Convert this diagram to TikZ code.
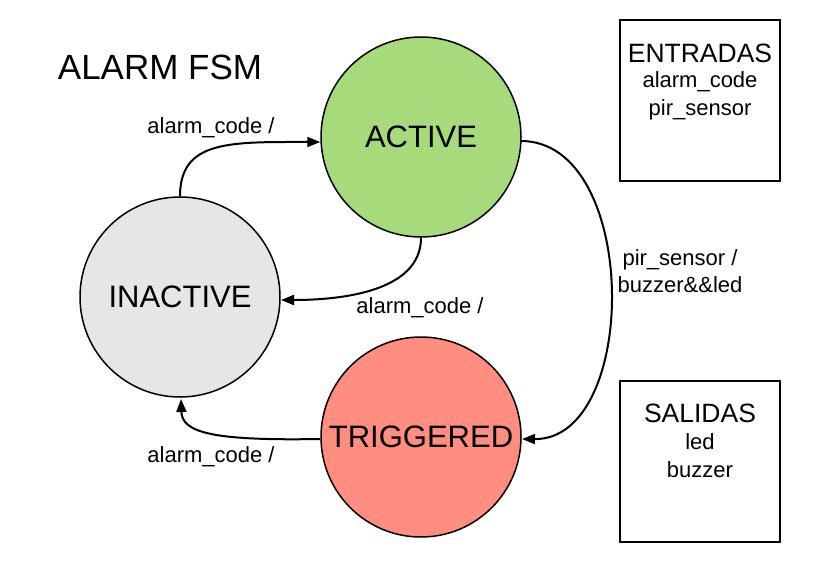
\documentclass[tikz,border=0pt]{standalone}
\usepackage{fontspec}
\setmainfont{Liberation Sans}
\usetikzlibrary{arrows.meta}
\definecolor{actg}{RGB}{166,218,122}
\definecolor{inag}{RGB}{230,230,230}
\definecolor{trgr}{RGB}{255,141,128}
\tikzset{
  state/.style={circle, draw=black, line width=1.5pt, minimum size=200pt, inner sep=0pt, font=\fontsize{31}{31}\selectfont},
  infobox/.style={draw=black, line width=2pt, minimum width=160pt, minimum height=161pt, inner sep=0pt},
  trans/.style={line width=2pt, -{Triangle[length=13pt,width=10pt]}},
  lbl/.style={font=\fontsize{22}{27}\selectfont, inner sep=0pt, align=center},
  boxhead/.style={inner sep=0pt, font=\fontsize{26.5}{30}\selectfont},
  boxitem/.style={inner sep=0pt, font=\fontsize{22}{26}\selectfont}
}
\begin{document}
\begin{tikzpicture}[x=1pt,y=-1pt]
\useasboundingbox (0,0) rectangle (840,572);
\node[font=\fontsize{35}{35}\selectfont, inner sep=0pt] (title) at (160,67) {ALARM FSM};
\node[state, fill=actg] (active) at (421,137) {ACTIVE};
\node[state, fill=inag] (inactive) at (180,297) {INACTIVE};
\node[state, fill=trgr] (trig) at (421,437) {TRIGGERED};
\node[infobox] (inbox) at (700,101) {};
\node[infobox] (outbox) at (700,461) {};
\node[boxhead] (inh) at (700,53) {ENTRADAS};
\node[boxitem] (in1) at (700,82) {alarm\_code};
\node[boxitem] (in2) at (700,110) {pir\_sensor};
\node[boxhead] (outh) at (700,413) {SALIDAS};
\node[boxitem] (out1) at (700,442) {led};
\node[boxitem] (out2) at (700,470) {buzzer};
\draw[trans] (inactive.north) .. controls (180,140) and (230,142) .. (active.west |- 0,142);
\draw[trans] (active.south) .. controls (421,292) and (340,300) .. (281,300);
\draw[trans] (trig.west |- 0,439) .. controls (210,441) and (182,432) .. (181,399);
\draw[trans] (521,141) .. controls (640,141) and (640,440) .. (522,439);
\node[lbl] (l1) at (211,128) {alarm\_code /};
\node[lbl] (l2) at (420,308) {alarm\_code /};
\node[lbl] (l3) at (211,457) {alarm\_code /};
\node[lbl] (l4) at (680,271) {pir\_sensor /\\buzzer\&\&led};
\end{tikzpicture}
\end{document}
